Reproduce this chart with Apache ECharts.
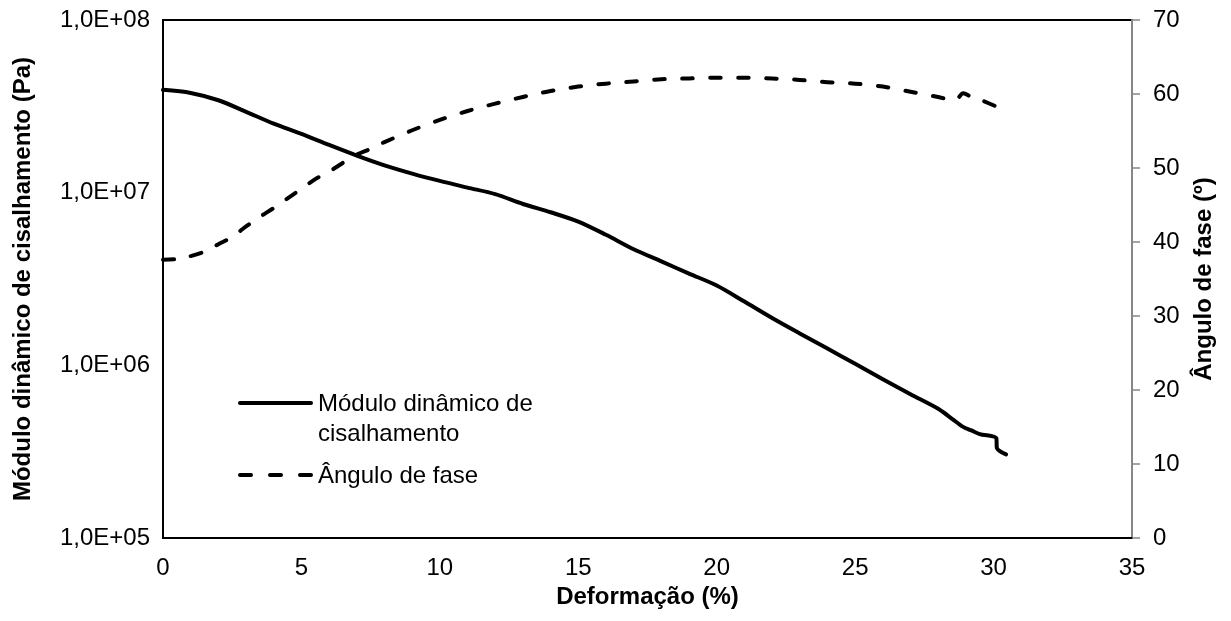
<!DOCTYPE html>
<html>
<head>
<meta charset="utf-8">
<script src="https://cdn.jsdelivr.net/npm/echarts@6/dist/echarts.min.js"></script>
<style>
  html, body { margin: 0; padding: 0; background: #fff; }
  #chart { width: 1231px; height: 621px; }
</style>
</head>
<body>
<div id="chart"></div>
<script>
// Deformação (%) and dynamic shear modulus G* (Pa)
const moduloX = [0, 1, 2, 3, 4, 5, 6, 7, 8, 9, 10, 11, 12, 13, 14, 15, 16, 17, 18, 19,
  20, 21, 22, 23, 24, 25, 26, 27, 28, 28.5, 28.9, 29.2, 29.5, 30.1, 30.12, 30.45];
const moduloPa = [3.94e7, 3.78e7, 3.43e7, 2.94e7, 2.51e7, 2.19e7, 1.89e7, 1.64e7, 1.44e7, 1.29e7,
  1.17e7, 1.07e7, 9.8e6, 8.6e6, 7.7e6, 6.8e6, 5.7e6, 4.7e6, 4.0e6, 3.4e6,
  2.9e6, 2.34e6, 1.88e6, 1.53e6, 1.25e6, 1.02e6, 8.3e5, 6.8e5, 5.6e5, 4.9e5,
  4.4e5, 4.2e5, 4.0e5, 3.78e5, 3.32e5, 3.05e5];

// Deformação (%) and phase angle (º)
const anguloX = [0, 0.5, 1, 1.5, 2, 2.5, 3, 3.5, 4, 4.5, 5, 5.5, 6, 6.5, 7, 7.5, 8, 9, 10,
  11, 12, 13, 14, 15, 16, 17, 18, 19, 20, 21, 22, 23, 24, 25, 26, 27, 28,
  28.5, 28.7, 28.9, 29.2, 29.6, 30.1];
const anguloGraus = [37.6, 37.7, 38.1, 38.7, 39.7, 40.7, 42.1, 43.4, 44.6, 45.9, 47.2, 48.5, 49.5,
  50.7, 51.8, 52.6, 53.5, 55.1, 56.5, 57.7, 58.7, 59.6, 60.4, 61.0, 61.4, 61.7, 62.0,
  62.1, 62.2, 62.2, 62.1, 61.9, 61.6, 61.4, 61.0, 60.3, 59.6,
  59.2, 59.4, 60.1, 59.6, 59.1, 58.3];

const seriesNames = ['Módulo dinâmico de cisalhamento', 'Ângulo de fase'];
const legendLines = ['Módulo dinâmico de', 'cisalhamento'];
const xTitle = 'Deformação (%)';
const yLeftTitle = 'Módulo dinâmico de cisalhamento (Pa)';
const yRightTitle = 'Ângulo de fase (º)';

const FONT = "'Liberation Sans', Arial, sans-serif";
const FS = 24;

function sciLabel(v) {
  const e = Math.round(Math.log10(v));
  return '1,0E+' + (e < 10 ? '0' + e : String(e));
}

function pairs(xs, ys) {
  return xs.map((x, i) => [x, ys[i]]);
}

const chart = echarts.init(document.getElementById('chart'), null, { renderer: 'canvas' });

const titleStyle = { fontFamily: FONT, fontSize: FS, fontWeight: 'bold', color: '#000' };
const labelStyle = { fontFamily: FONT, fontSize: FS, color: '#000' };

chart.setOption({
  backgroundColor: '#ffffff',
  animation: false,
  grid: {
    left: 163, right: 99, top: 20, bottom: 83,
    show: true, borderColor: '#000', borderWidth: 2, backgroundColor: 'transparent'
  },
  xAxis: {
    type: 'value', min: 0, max: 35, interval: 5,
    name: xTitle, nameLocation: 'middle', nameGap: 43,
    nameTextStyle: titleStyle,
    axisLine: { show: true, lineStyle: { color: '#000', width: 2 } },
    axisTick: { show: false },
    splitLine: { show: false },
    axisLabel: Object.assign({ margin: 18 }, labelStyle)
  },
  yAxis: [
    {
      type: 'log', logBase: 10, min: 1e5, max: 1e8,
      position: 'left',
      name: yLeftTitle, nameLocation: 'middle', nameGap: 128, nameRotate: 90,
      nameTextStyle: titleStyle,
      axisLine: { show: true, lineStyle: { color: '#000', width: 2 } },
      axisTick: { show: false },
      splitLine: { show: false },
      axisLabel: Object.assign({ margin: 13, formatter: sciLabel }, labelStyle)
    },
    {
      type: 'value', min: 0, max: 70, interval: 10,
      position: 'right',
      name: yRightTitle, nameLocation: 'middle', nameGap: 60, nameRotate: 90,
      nameTextStyle: titleStyle,
      axisLine: { show: true, lineStyle: { color: '#868686', width: 2 } },
      axisTick: { show: true, inside: false, length: 8, lineStyle: { color: '#868686', width: 1.5 } },
      splitLine: { show: false },
      axisLabel: Object.assign({ margin: 21 }, labelStyle)
    }
  ],
  series: [
    {
      name: seriesNames[0], type: 'line', yAxisIndex: 0,
      data: pairs(moduloX, moduloPa),
      showSymbol: false, symbol: 'none', smooth: 0.3,
      lineStyle: { color: '#000', width: 4, cap: 'round', join: 'round' },
      z: 3
    },
    {
      name: seriesNames[1], type: 'line', yAxisIndex: 1,
      data: pairs(anguloX, anguloGraus),
      showSymbol: false, symbol: 'none', smooth: 0.3,
      lineStyle: { color: '#000', width: 4, type: [11, 17], cap: 'round', join: 'round' },
      z: 3
    }
  ],
  graphic: [
    { type: 'line', shape: { x1: 240, y1: 403, x2: 311, y2: 403 },
      style: { stroke: '#000', lineWidth: 4, lineCap: 'round' } },
    { type: 'text', left: 318, top: 389,
      style: { text: legendLines.join('\n'), fill: '#000', font: FS + 'px ' + FONT, lineHeight: 30 } },
    { type: 'line', shape: { x1: 240, y1: 475, x2: 311, y2: 475 },
      style: { stroke: '#000', lineWidth: 4, lineCap: 'round', lineDash: [11, 19] } },
    { type: 'text', left: 318, top: 461,
      style: { text: seriesNames[1], fill: '#000', font: FS + 'px ' + FONT, lineHeight: 30 } }
  ]
});
</script>
</body>
</html>
